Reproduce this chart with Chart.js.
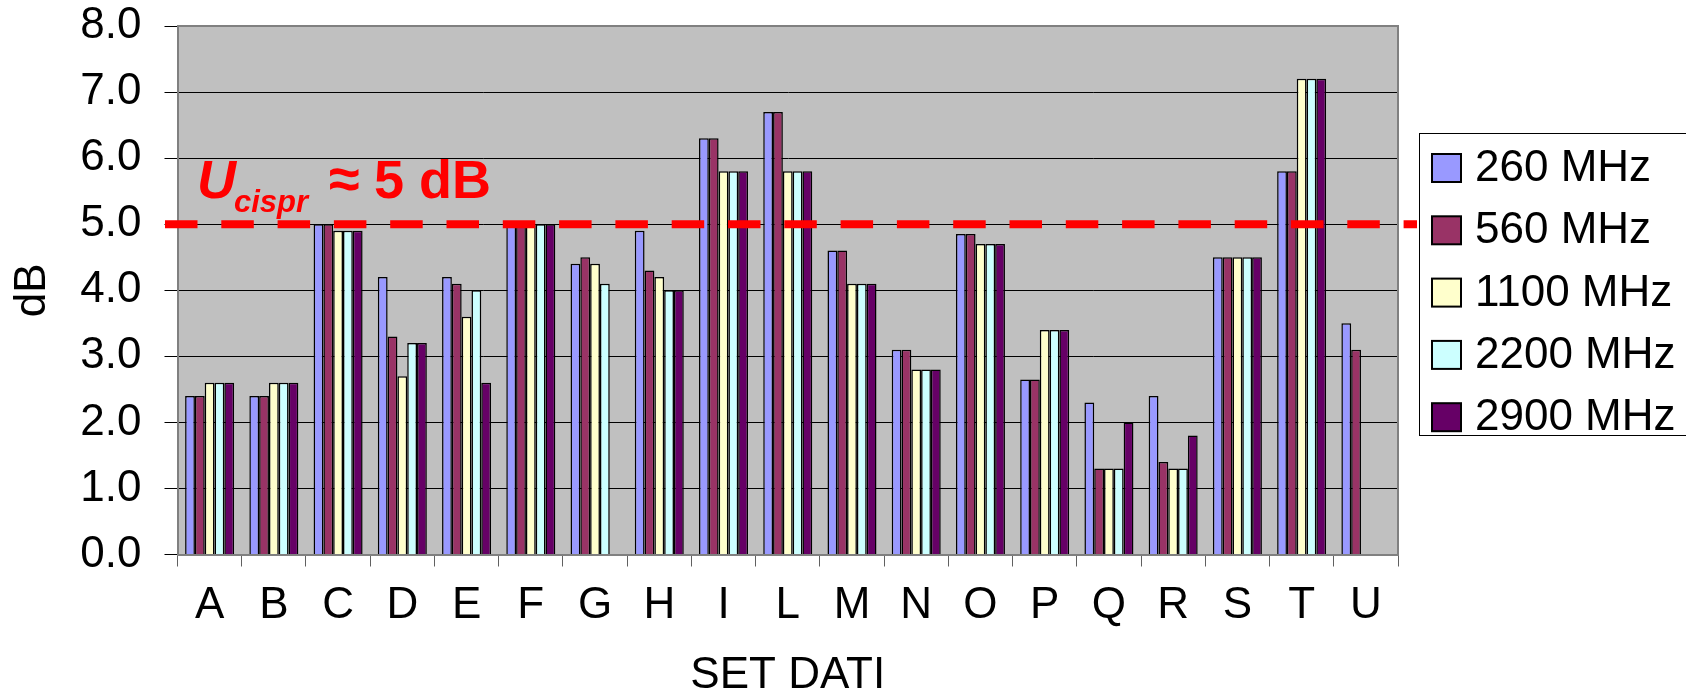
<!DOCTYPE html>
<html>
<head>
<meta charset="utf-8">
<script src="https://cdn.jsdelivr.net/npm/chart.js@4.4.1/dist/chart.umd.min.js"></script>
<style>
  html, body { margin: 0; padding: 0; background: #ffffff; }
  #wrap { width: 1686px; height: 696px; position: relative; }
</style>
</head>
<body>
<div id="wrap"><canvas id="chart"></canvas></div>
<script>
// Measurement sets (x axis) and attenuation values in dB for each frequency
const categories = ['A','B','C','D','E','F','G','H','I','L','M','N','O','P','Q','R','S','T','U'];
const seriesLabels = ['260 MHz', '560 MHz', '1100 MHz', '2200 MHz', '2900 MHz'];
const f260  = [2.4, 2.4, 5.0, 4.2, 4.2, 5.0, 4.4, 4.9, 6.3, 6.7, 4.6, 3.1, 4.85, 2.65, 2.3, 2.4, 4.5, 5.8, 3.5];
const f560  = [2.4, 2.4, 5.0, 3.3, 4.1, 5.0, 4.5, 4.3, 6.3, 6.7, 4.6, 3.1, 4.85, 2.65, 1.3, 1.4, 4.5, 5.8, 3.1];
const f1100 = [2.6, 2.6, 4.9, 2.7, 3.6, 5.0, 4.4, 4.2, 5.8, 5.8, 4.1, 2.8, 4.7, 3.4, 1.3, 1.3, 4.5, 7.2, null];
const f2200 = [2.6, 2.6, 4.9, 3.2, 4.0, 5.0, 4.1, 4.0, 5.8, 5.8, 4.1, 2.8, 4.7, 3.4, 1.3, 1.3, 4.5, 7.2, null];
const f2900 = [2.6, 2.6, 4.9, 3.2, 2.6, 5.0, null, 4.0, 5.8, 5.8, 4.1, 2.8, 4.7, 3.4, 2.0, 1.8, 4.5, 7.2, null];
const yTicks = [0, 1, 2, 3, 4, 5, 6, 7, 8];
const cisprLimit = 5; // U_cispr threshold, dB

const seriesValues = [f260, f560, f1100, f2200, f2900];
const seriesColors = ['#9999FF', '#993366', '#FFFFCC', '#CCFFFF', '#660066'];

const FONT = '"Liberation Sans", Arial, sans-serif';

// Grey plot area, its frame, the dashed CISPR line with its label, and the boxed legend
const plotDecor = {
  id: 'plotDecor',
  beforeDraw(chart) {
    const { ctx, chartArea: a } = chart;
    ctx.save();
    ctx.fillStyle = '#ffffff';
    ctx.fillRect(0, 0, chart.width, chart.height);
    ctx.fillStyle = '#C0C0C0';
    ctx.fillRect(a.left, a.top, a.right - a.left, a.bottom - a.top);
    ctx.restore();
  },
  afterDatasetsDraw(chart) {
    const { ctx, chartArea: a } = chart;
    ctx.save();
    ctx.strokeStyle = '#808080';
    ctx.lineWidth = 2;
    ctx.beginPath();
    ctx.moveTo(a.left, a.top);
    ctx.lineTo(a.right, a.top);
    ctx.lineTo(a.right, a.bottom);
    ctx.stroke();
    ctx.restore();
  },
  afterDraw(chart) {
    const { ctx } = chart;
    const y = chart.scales.y.getPixelForValue(cisprLimit);
    ctx.save();

    // dashed limit line
    ctx.strokeStyle = '#FF0000';
    ctx.lineWidth = 8;
    ctx.lineCap = 'butt';
    ctx.setLineDash([32.5, 23.8]);
    ctx.beginPath();
    ctx.moveTo(165, y);
    ctx.lineTo(1417, y);
    ctx.stroke();
    ctx.setLineDash([]);

    // "U_cispr ≈ 5 dB" label
    const base = y - 26;
    ctx.fillStyle = '#FF0000';
    ctx.textBaseline = 'alphabetic';
    ctx.textAlign = 'left';
    ctx.font = 'italic bold 54px ' + FONT;
    ctx.fillText('U', 197, base);
    ctx.font = 'italic bold 31px ' + FONT;
    ctx.fillText('cispr', 234, base + 14);
    ctx.font = 'bold 56px ' + FONT;
    ctx.fillText('\u2248', 329, base);
    ctx.font = 'bold 54px ' + FONT;
    ctx.fillText('5 dB', 374, base);

    // legend box
    ctx.strokeStyle = '#000000';
    ctx.lineWidth = 1;
    ctx.strokeRect(1419.5, 133.5, 320, 302);
    chart.data.datasets.forEach((ds, i) => {
      const cy = 168 + 62.3 * i;
      ctx.fillStyle = ds.backgroundColor;
      ctx.fillRect(1432, cy - 14, 29, 28);
      ctx.lineWidth = 2;
      ctx.strokeStyle = '#000000';
      ctx.strokeRect(1432, cy - 14, 29, 28);
      ctx.fillStyle = '#000000';
      ctx.font = '44px ' + FONT;
      ctx.textBaseline = 'middle';
      ctx.fillText(ds.label, 1475, cy + 1);
    });
    ctx.restore();
  }
};

// Fixed axis box sizes so the plot area sits at a set position
function fixScalePadding(scale) {
  scale.paddingTop = 0;
  scale.paddingBottom = 0;
  scale.paddingLeft = 0;
  scale.paddingRight = 0;
}

new Chart(document.getElementById('chart'), {
  type: 'bar',
  data: {
    labels: categories,
    datasets: seriesLabels.map((label, i) => ({
      label,
      data: seriesValues[i],
      backgroundColor: seriesColors[i],
      borderColor: '#000000',
      borderWidth: 1.5,
      borderSkipped: 'bottom',
      categoryPercentage: 0.763,
      barPercentage: 1.0
    }))
  },
  options: {
    responsive: true,
    maintainAspectRatio: false,
    animation: false,
    devicePixelRatio: 1,
    layout: { padding: { left: 0, top: 26, right: 288, bottom: 0 } },
    plugins: {
      legend: { display: false },
      tooltip: { enabled: false }
    },
    scales: {
      x: {
        type: 'category',
        offset: true,
        afterFit(scale) { scale.height = 141.5; fixScalePadding(scale); },
        grid: {
          offset: true,
          drawOnChartArea: false,
          drawTicks: true,
          tickLength: 12,
          color: '#606060',
          lineWidth: 1
        },
        border: { display: true, color: '#808080', width: 2 },
        ticks: {
          color: '#000000',
          padding: 13,
          maxRotation: 0,
          autoSkip: false,
          font: { family: FONT, size: 44, lineHeight: 1.2 }
        },
        title: {
          display: true,
          text: 'SET DATI',
          color: '#000000',
          padding: { top: 0, bottom: 0 },
          font: { family: FONT, size: 44, lineHeight: 0.9 }
        }
      },
      y: {
        min: 0,
        max: 8,
        afterFit(scale) { scale.width = 177.5; fixScalePadding(scale); },
        afterBuildTicks(scale) { scale.ticks = yTicks.map(v => ({ value: v })); },
        grid: {
          color: '#000000',
          lineWidth: 1,
          drawTicks: true,
          tickLength: 13
        },
        border: { display: true, color: '#808080', width: 2 },
        ticks: {
          color: '#000000',
          padding: 23,
          font: { family: FONT, size: 44 },
          callback: v => Number(v).toFixed(1)
        },
        title: {
          display: true,
          text: 'dB',
          color: '#000000',
          padding: { top: 6, bottom: 0 },
          font: { family: FONT, size: 44, lineHeight: 1.2 }
        }
      }
    }
  },
  plugins: [plotDecor]
});
</script>
</body>
</html>
